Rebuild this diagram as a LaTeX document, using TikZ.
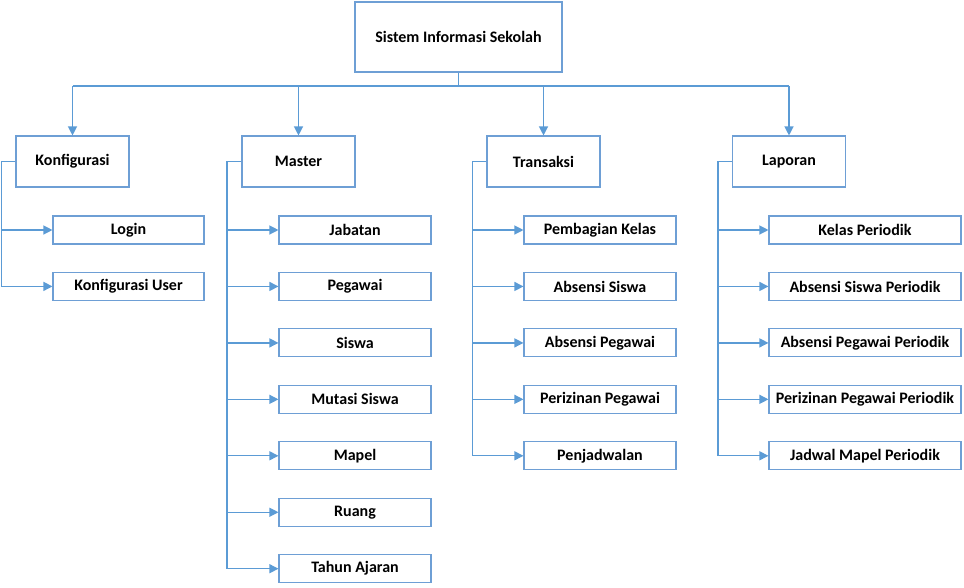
\documentclass[tikz,border=0pt]{standalone}
\usepackage{fontspec}
\setmainfont{Carlito}
\usetikzlibrary{arrows.meta}
\definecolor{garis}{HTML}{5B9BD5}
\definecolor{tepi}{HTML}{6E9FD5}

\begin{document}
\begin{tikzpicture}[x=1pt, y=-1pt, font=\fontsize{16}{19}\selectfont\bfseries,
  kotak/.style={draw=tepi, line width=1.1pt, fill=white, inner sep=2pt},
  akar/.style={kotak, minimum width=207pt, minimum height=70pt},
  menu/.style={kotak, minimum width=113pt, minimum height=51pt},
  sub/.style={kotak, minimum width=152pt, minimum height=28pt},
  panah/.style={draw=garis, line width=1.2pt, -{Triangle[length=9pt,width=9pt]}},
  garis/.style={draw=garis, line width=1.2pt}]
\useasboundingbox (0,0) rectangle (964,587);
% akar
\node[akar] (sis) at (458.5,37) {Sistem Informasi Sekolah};
\coordinate (bus) at (458.5,86);
% menu utama
\node[menu] (konf) at (72.5,161.5) {Konfigurasi};
\node[menu] (mst) at (298.5,161.5) {Master};
\node[menu] (trx) at (543.5,161.5) {Transaksi};
\node[menu] (lap) at (789,161.5) {Laporan};
\draw[garis] (sis.south) -- (bus);
\draw[garis] (bus -| konf.north) -- (bus -| lap.north);
\foreach \m in {konf,mst,trx,lap} \draw[panah] (bus -| \m.north) -- (\m.north);
% konfigurasi
\node[sub, minimum width=151pt] (login) at (128.5,230) {Login};
\node[sub, minimum width=151pt] (kuser) at (128.5,286.4) {Konfigurasi User};
\coordinate (konf-b) at ([xshift=-14pt]konf.west);
\draw[garis] (konf.west) -- (konf-b) -- (konf-b |- kuser.west);
\foreach \s in {login,kuser} \draw[panah] (konf-b |- \s.west) -- (\s.west);
% master
\foreach \n/\t [count=\i from 0] in {jab/Jabatan, peg/Pegawai, sw/Siswa, mut/Mutasi Siswa, mpl/Mapel, rg/Ruang, ta/Tahun Ajaran}
  \node[sub] (\n) at (355,230+56.45*\i) {\t};
\coordinate (mst-b) at ([xshift=-14.5pt]mst.west);
\draw[garis] (mst.west) -- (mst-b) -- (mst-b |- ta.west);
\foreach \s in {jab,peg,sw,mut,mpl,rg,ta} \draw[panah] (mst-b |- \s.west) -- (\s.west);
% transaksi
\foreach \n/\t [count=\i from 0] in {pk/Pembagian Kelas, as/Absensi Siswa, ap/Absensi Pegawai, pp/Perizinan Pegawai, jdw/Penjadwalan}
  \node[sub] (\n) at (600,230+56.45*\i) {\t};
\coordinate (trx-b) at ([xshift=-14pt]trx.west);
\draw[garis] (trx.west) -- (trx-b) -- (trx-b |- jdw.west);
\foreach \s in {pk,as,ap,pp,jdw} \draw[panah] (trx-b |- \s.west) -- (\s.west);
% laporan
\foreach \n/\t [count=\i from 0] in {lkp/Kelas Periodik, lasp/Absensi Siswa Periodik, lapp/Absensi Pegawai Periodik, lpp/Perizinan Pegawai Periodik, ljp/Jadwal Mapel Periodik}
  \node[sub, minimum width=192pt] (\n) at (865,230+56.45*\i) {\t};
\coordinate (lap-b) at ([xshift=-14pt]lap.west);
\draw[garis] (lap.west) -- (lap-b) -- (lap-b |- ljp.west);
\foreach \s in {lkp,lasp,lapp,lpp,ljp} \draw[panah] (lap-b |- \s.west) -- (\s.west);
\end{tikzpicture}
\end{document}
